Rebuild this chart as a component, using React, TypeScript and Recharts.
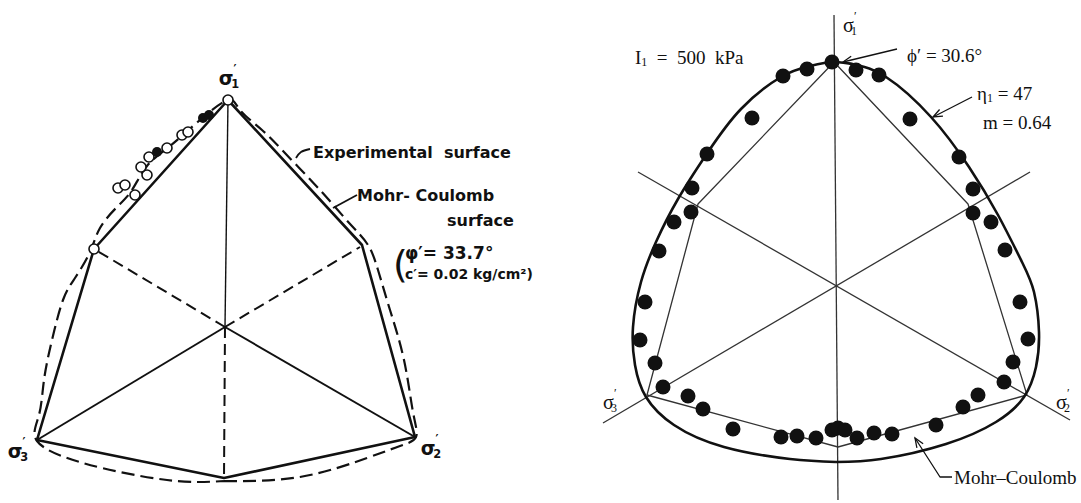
import React from 'react';
import { ScatterChart, Scatter, XAxis, YAxis } from 'recharts';

/* Deviatoric-plane failure surfaces: two panels side by side.
   Coordinates are in plane units, origin at the hydrostatic axis, y up. */

type Pt = { x: number; y: number };
const pts = (rows: number[][]): Pt[] => rows.map(([x, y]) => ({ x, y }));

/* ───────── Left panel: experimental vs Mohr-Coulomb ───────── */

const leftMohrCoulomb = pts([
  [3, 227], [137, 82], [190, -110], [-1, -151], [-188, -113], [-131, 78], [3, 227],
]);

// closed experimental surface, starting at the bottom
const leftExperimental = pts([
  [-1, -154], [75, -150], [142, -131], [175, -119], [191, -110], [188, -85],
  [179, -33], [165, 17], [153, 57], [143, 82], [126, 102], [104, 127], [81, 152],
  [57, 177], [37, 197], [15, 217], [3, 227], [-25, 207], [-55, 181], [-78, 161],
  [-93, 137], [-108, 120], [-125, 99], [-135, 75], [-150, 49], [-162, 27],
  [-173, -13], [-181, -53], [-186, -88], [-188, -114], [-142, -136], [-58, -153],
  [-1, -154],
]);

const leftSolidRays = pts([[3, 227], [-188, -113], [190, -110]]);
const leftDashedRays = pts([[-131, 78], [135, 80], [-1, -151]]);

const leftOpenTests = pts([
  [3, 227], [-131, 78], [-107, 139], [-90, 132], [-78, 152], [-76, 170],
  [-58, 179], [-43, 192], [-37, 195], [-100, 142], [-84, 160],
]);
const leftFilledTests = pts([[-68, 175], [-22, 209], [-16, 212]]);

const leftExpLeader = pts([[71, 169], [76, 175], [85, 178]]);
const leftMcLeader = pts([[132, 132], [108, 119]]);

/* ───────── Right panel: Lade surface vs Mohr-Coulomb at I1 = 500 kPa ───────── */

const rightAxes = [
  pts([[-2, 272], [2, -213]]),
  pts([[-233, -136], [194, 115]]),
  pts([[-198, 115], [234, -133]]),
];

const rightMohrCoulomb = pts([
  [-2, 225], [132, 83], [191, -108], [2, -160], [-189, -108], [-138, 83], [-2, 225],
]);

// Lade surface (eta1 = 47, m = 0.64), closed, starting at the bottom
const rightLade = pts([
  [0, -175], [45, -172], [110, -157], [160, -135], [188, -110], [200, -80],
  [203, -45], [198, -5], [186, 25], [162, 72], [133, 120], [95, 170], [50, 210],
  [20, 222], [-2, 225], [-26, 221], [-55, 210], [-95, 178], [-128, 135],
  [-158, 88], [-180, 45], [-195, 5], [-203, -40], [-201, -78], [-190, -110],
  [-162, -138], [-112, -160], [-46, -172], [0, -175],
]);

const rightTests = pts([
  [-4, 225], [-29, 218], [-53, 211], [20, 217], [43, 212], [-84, 169], [74, 168],
  [-129, 133], [123, 130], [-144, 99], [137, 98], [-145, 75], [137, 74],
  [-162, 65], [155, 65], [-177, 36], [169, 37], [-191, -15], [-196, -53],
  [-181, -76], [-173, -100], [184, -15], [192, -52], [177, -75], [168, -95],
  [-148, -109], [-133, -122], [-103, -142], [-55, -150], [-39, -149], [-20, -151],
  [-4, -143], [2, -141], [9, -143], [21, -151], [38, -146], [56, -147],
  [100, -138], [127, -120], [142, -108],
]);

const rightPhiArrow = pts([[61, 238], [7, 225]]);
const rightLadeArrow = pts([[136, 190], [97, 170]]);
const rightMcArrow = pts([[116, -190], [104, -190], [79, -151]]);

/* ───────── Drawing helpers ───────── */

const INK = '#111';
const SANS = '"DejaVu Sans", sans-serif';
const SERIF = '"Liberation Serif", "Times New Roman", serif';

const noDot = () => <g />;

function stroke(
  key: string, data: Pt[], width: number, dash?: string, curve: any = 'linear', color = INK,
) {
  return (
    <Scatter
      key={key}
      data={data}
      line={{ stroke: color, strokeWidth: width, strokeDasharray: dash, strokeLinejoin: 'round' }}
      lineType="joint"
      lineJointType={curve}
      shape={noDot}
      isAnimationActive={false}
    />
  );
}

function arrow(key: string, data: Pt[], width = 1.3) {
  const tip = data[data.length - 1];
  const prev = data[data.length - 2];
  const ang = Math.atan2(-(tip.y - prev.y), tip.x - prev.x);
  const head = (p: any) => {
    const L = 10;
    const a1 = ang + Math.PI - 0.38;
    const a2 = ang + Math.PI + 0.38;
    return (
      <path
        d={`M${p.cx + L * Math.cos(a1)},${p.cy + L * Math.sin(a1)} L${p.cx},${p.cy} L${p.cx + L * Math.cos(a2)},${p.cy + L * Math.sin(a2)}`}
        fill="none"
        stroke={INK}
        strokeWidth={width}
      />
    );
  };
  return [
    stroke(key, data, width),
    <Scatter key={key + '-h'} data={[tip]} shape={head} isAnimationActive={false} />,
  ];
}

function dots(key: string, data: Pt[], r: number, open: boolean) {
  const shape = (p: any) => (
    <circle
      cx={p.cx}
      cy={p.cy}
      r={r}
      fill={open ? '#fff' : INK}
      stroke={INK}
      strokeWidth={open ? 1.6 : 0}
    />
  );
  return <Scatter key={key} data={data} shape={shape} isAnimationActive={false} />;
}

function note(key: string, at: Pt, body: React.ReactNode) {
  const shape = (p: any) => <g transform={`translate(${p.cx},${p.cy})`}>{body}</g>;
  return <Scatter key={key} data={[at]} shape={shape} isAnimationActive={false} />;
}

function sigma(n: string, font: string, size: number, weight: string | number) {
  return (
    <text
      fontFamily={font}
      fontSize={size}
      fontWeight={weight}
      textAnchor="middle"
      dominantBaseline="central"
      fill={INK}
    >
      σ
      <tspan fontSize={size * 0.6} dx={0} dy={-size * 0.45}>′</tspan>
      <tspan fontSize={size * 0.6} dx={-size * 0.28} dy={size * 0.75}>{n}</tspan>
    </text>
  );
}

function words(text: string, font: string, size: number, weight: string | number = 'normal') {
  return (
    <text
      fontFamily={font}
      fontSize={size}
      fontWeight={weight}
      dominantBaseline="central"
      fill={INK}
      style={{ whiteSpace: 'pre' }}
    >
      {text}
    </text>
  );
}

function Panel({ left, width, height, xDomain, yDomain, children }: any) {
  return (
    <div style={{ position: 'absolute', left, top: 0 }}>
      <ScatterChart width={width} height={height} margin={{ top: 0, right: 0, bottom: 0, left: 0 }}>
        <XAxis type="number" dataKey="x" domain={xDomain} hide allowDataOverflow />
        <YAxis type="number" dataKey="y" domain={yDomain} hide allowDataOverflow />
        {children}
      </ScatterChart>
    </div>
  );
}

export default function App() {
  const origin = { x: 0, y: 0 };
  return (
    <div style={{ position: 'absolute', left: 0, top: 0, width: 1081, height: 503, background: '#fff', overflow: 'hidden' }}>
      <Panel left={0} width={540} height={503} xDomain={[-225, 315]} yDomain={[-176, 327]}>
        {leftSolidRays.map((p, i) => stroke(`ls${i}`, [origin, p], i === 0 ? 1.4 : 2))}
        {leftDashedRays.map((p, i) => stroke(`ld${i}`, [origin, p], 2, '11 6'))}
        {stroke('lmc', leftMohrCoulomb, 2.6)}
        {stroke('lexp', leftExperimental, 2.2, '13 6', 'natural')}
        {stroke('lexpLead', leftExpLeader, 1.8, undefined, 'natural')}
        {stroke('lmcLead', leftMcLeader, 1.8)}
        {dots('lopen', leftOpenTests, 5, true)}
        {dots('lfill', leftFilledTests, 5, false)}
        {note('l1', { x: 4, y: 249 }, sigma('1', SANS, 19, 'bold'))}
        {note('l3', { x: -207, y: -124 }, sigma('3', SANS, 19, 'bold'))}
        {note('l2', { x: 206, y: -121 }, sigma('2', SANS, 19, 'bold'))}
        {note('lexpT', { x: 88, y: 175 }, words('Experimental  surface', SANS, 16, 'bold'))}
        {note('lmcT', { x: 132, y: 132 }, words('Mohr- Coulomb', SANS, 16, 'bold'))}
        {note('lsurfT', { x: 222, y: 107 }, words('surface', SANS, 16, 'bold'))}
        {note('lparen', { x: 168, y: 63 }, words('(', SANS, 38, 'normal'))}
        {note('lphiT', { x: 180, y: 74 }, words('φ′= 33.7°', SANS, 17, 'bold'))}
        {note('lcT', { x: 180, y: 53 }, words('c′= 0.02 kg/cm²)', SANS, 14, 'bold'))}
      </Panel>

      <Panel left={540} width={541} height={503} xDomain={[-296, 245]} yDomain={[-216, 287]}>
        {rightAxes.map((seg, i) => stroke(`ra${i}`, seg, 1.3, undefined, 'linear', '#333'))}
        {stroke('rmc', rightMohrCoulomb, 1.3, undefined, 'linear', '#333')}
        {stroke('rlade', rightLade, 2.6, undefined, 'natural')}
        {dots('rtest', rightTests, 7.5, false)}
        {arrow('rphi', rightPhiArrow)}
        {arrow('rlade', rightLadeArrow)}
        {arrow('rmcA', rightMcArrow)}
        {note('r1', { x: 14, y: 262 }, sigma('1', SERIF, 20, 'normal'))}
        {note('r3', { x: -226, y: -115 }, sigma('3', SERIF, 20, 'normal'))}
        {note('r2', { x: 227, y: -115 }, sigma('2', SERIF, 20, 'normal'))}
        {note('rI1', { x: -201, y: 230 }, (
          <text fontFamily={SERIF} fontSize={19} dominantBaseline="central" fill={INK} style={{ whiteSpace: 'pre' }}>
            I<tspan fontSize={12} dy={5}>1</tspan><tspan dy={-5}>{'  =  500  kPa'}</tspan>
          </text>
        ))}
        {note('rphiT', { x: 71, y: 232 }, words('ϕ′ = 30.6°', SERIF, 19))}
        {note('retaT', { x: 141, y: 194 }, (
          <text fontFamily={SERIF} fontSize={19} dominantBaseline="central" fill={INK}>
            η<tspan fontSize={12} dy={5}>1</tspan><tspan dy={-5}>{' = 47'}</tspan>
          </text>
        ))}
        {note('rmT', { x: 147, y: 165 }, words('m = 0.64', SERIF, 19))}
        {note('rmcT', { x: 118, y: -190 }, words('Mohr–Coulomb', SERIF, 19))}
      </Panel>
    </div>
  );
}
